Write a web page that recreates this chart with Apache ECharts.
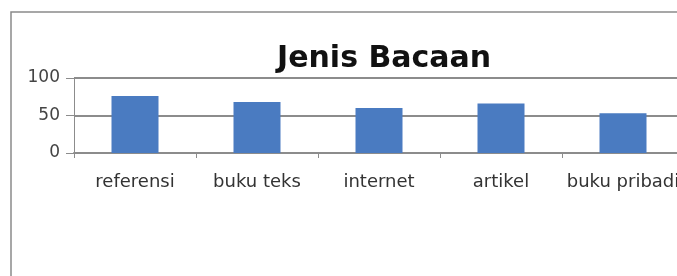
<!DOCTYPE html>
<html>
<head>
<meta charset="utf-8">
<script src="https://cdn.jsdelivr.net/npm/echarts@6/dist/echarts.min.js"></script>
<style>
  html, body { margin: 0; padding: 0; background: #fff; overflow: hidden; width: 677px; height: 276px; }
  #chart { width: 700px; height: 276px; }
</style>
</head>
<body>
<div id="chart"></div>
<script>
const chartTitle = 'Jenis Bacaan'
const categories = ['referensi', 'buku teks', 'internet', 'artikel', 'buku pribadi']
const values = [76, 68, 60, 66, 53]
const yTicks = [0, 50, 100]

const chartInstance = echarts.init(document.getElementById('chart'))

const options = {
    animation: false,
    textStyle: { fontFamily: 'DejaVu Sans' },
    graphic: [
        {
            type: 'rect',
            shape: { x: 11, y: 12, width: 900, height: 400 },
            style: { fill: 'none', stroke: '#8a8a8a', lineWidth: 1.5 },
            silent: true,
        },
    ],
    title: {
        text: chartTitle,
        left: 272,
        top: 39,
        textStyle: { fontFamily: 'DejaVu Sans', fontWeight: 'bold', fontSize: 30, color: '#111' },
    },
    grid: {
        left: 74,
        top: 78,
        height: 75,
        width: 610,
        containLabel: false,
    },
    xAxis: {
        type: 'category',
        data: categories,
        axisLine: { show: true, lineStyle: { color: '#8c8c8c', width: 2 } },
        axisTick: { show: true, alignWithLabel: false, length: 5, lineStyle: { color: '#8c8c8c' } },
        axisLabel: { color: '#333', fontSize: 18, margin: 20, interval: 0 },
    },
    yAxis: {
        type: 'value',
        min: yTicks[0],
        max: yTicks[yTicks.length - 1],
        interval: 50,
        axisLine: { show: true, lineStyle: { color: '#8c8c8c', width: 1 } },
        axisTick: { show: true, length: 8, lineStyle: { color: '#8c8c8c' } },
        axisLabel: { color: '#444', fontSize: 17, margin: 14 },
        splitLine: { show: true, lineStyle: { color: '#8c8c8c', width: 2 } },
    },
    series: [
        {
            type: 'bar',
            data: values,
            barWidth: 47,
            itemStyle: { color: '#4a7bc1' },
        },
    ],
}

chartInstance.setOption(options)
</script>
</body>
</html>
